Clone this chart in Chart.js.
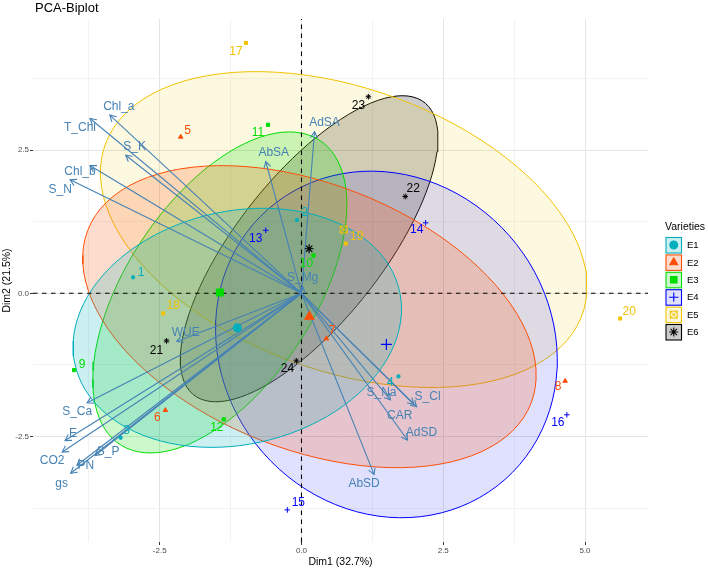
<!DOCTYPE html>
<html>
<head>
<meta charset="utf-8">
<title>PCA-Biplot</title>
<script src="https://cdn.jsdelivr.net/npm/chart.js@4.4.0/dist/chart.umd.min.js"></script>
<style>
  html, body { margin: 0; padding: 0; background: #fff; }
  #wrap { width: 708px; height: 569px; }
</style>
</head>
<body>
<div id="wrap"><canvas id="biplot" width="708" height="569"></canvas></div>
<script>
// --- data ---
const groupNames = ['E1', 'E2', 'E3', 'E4', 'E5', 'E6'];

const indLabels = ['1','2','3','4','5','6','7','8','9','10','11','12',
                   '13','14','15','16','17','18','19','20','21','22','23','24'];
const indGroup  = [0,0,0,0, 1,1,1,1, 2,2,2,2, 3,3,3,3, 4,4,4,4, 5,5,5,5];
const indDim1 = [-2.97, -0.08, -3.19,  1.71,
                 -2.13, -2.40,  0.44,  4.65,
                 -4.01,  0.21, -0.59, -1.37,
                 -0.63,  2.19, -0.25,  4.68,
                 -0.98, -2.44,  0.78,  5.62,
                 -2.38,  1.83,  1.18, -0.09];
const indDim2 = [ 0.28,  1.28, -2.52, -1.45,
                  2.73, -2.04, -0.79, -1.53,
                 -1.34,  0.66,  2.94, -2.20,
                  1.10,  1.23, -3.78, -2.12,
                  4.37, -0.35,  0.87, -0.44,
                 -0.83,  1.69,  3.43, -1.18];

const varNames = ['Chl_a','T_Chl','S_K','Chl_b','S_N','AbSA','AdSA','S_Mg','WUE','S_Ca',
                  'E','CO2','S_P','PN','gs','S_Na','S_Cl','CAR','AdSD','AbSD'];
const varDim1 = [-3.38, -3.73, -3.10, -3.73, -4.08, -0.63,  0.23, 0.02, -2.20, -3.78,
                 -4.17, -4.22, -3.64, -3.96, -4.07,  1.57,  2.03, 1.98,  1.87,  1.28];
const varDim2 = [ 3.11,  3.05,  2.41,  2.23,  1.98,  2.30,  2.82, 0.12, -0.84, -1.91,
                 -2.57, -2.77, -2.83, -3.00, -3.14, -1.86, -1.98, -1.94, -2.56, -3.16];

const dim1Ticks = [-3.75, -2.5, -1.25, 0, 1.25, 2.5, 3.75, 5];
const dim2Ticks = [-3.75, -2.5, -1.25, 0, 1.25, 2.5, 3.75];
const majorTicks = [-2.5, 0, 2.5, 5];

// --- styles / layout ---
const groupColors = ['#00AFBB', '#FC4E07', '#00DD00', '#0000FF', '#F2C200', '#000000'];
const groupFills  = ['rgba(0,175,187,0.2)', 'rgba(252,78,7,0.2)', 'rgba(0,221,0,0.2)',
                     'rgba(0,0,255,0.12)', 'rgba(242,194,0,0.12)', 'rgba(0,0,0,0.2)'];
const arrowColor = '#4682B4';
const xRange = [-4.735, 6.111];
const yRange = [-4.34, 4.787];

// label nudges in pixels (ggrepel placed them by hand in the original)
const indNudge = [[8,-5],[8,-7],[6,-7],[-8,6],[7,-6],[-8,7],[6,-8],[-7,6],
                  [8,-5],[-7,8],[-10,8],[-7,8],[-10,8],[-9,7],[11,-7],[-9,8],
                  [-10,9],[10,-8],[11,-7],[9,-7],[-10,10],[8,-8],[-10,9],[-9,8]];
const varNudge = [[9,-8],[-10,9],[9,-9],[-10,6],[-10,10],[8,-9],[10,-9],[0,-9],[9,-9],[-10,9],
                  [8,-7],[-10,9],[13,-4],[9,0],[-9,10],[-9,-7],[11,-10],[-14,11],[14,-7],[-10,9]];

const FONT = '"Liberation Sans", Arial, sans-serif';

// square with a cross inside (ggplot shape 7)
function squareX(size, color) {
  const c = document.createElement('canvas');
  c.width = c.height = size + 2;
  const g = c.getContext('2d');
  g.strokeStyle = color;
  g.lineWidth = 1;
  g.strokeRect(1.5, 1.5, size - 1, size - 1);
  g.beginPath();
  g.moveTo(1.5, 1.5); g.lineTo(size + 0.5, size + 0.5);
  g.moveTo(size + 0.5, 1.5); g.lineTo(1.5, size + 0.5);
  g.stroke();
  return c;
}

const smallStyle = [
  { pointStyle: 'circle', radius: 1.7 },
  { pointStyle: 'triangle', radius: 2.6 },
  { pointStyle: 'rect', radius: 2.3 },
  { pointStyle: 'cross', radius: 2.8 },
  { pointStyle: squareX(4, groupColors[4]), radius: 3 },
  { pointStyle: 'star', radius: 2.8 }
];
const bigStyle = [
  { pointStyle: 'circle', radius: 3.9 },
  { pointStyle: 'triangle', radius: 5.2 },
  { pointStyle: 'rect', radius: 4.8 },
  { pointStyle: 'cross', radius: 5.5 },
  { pointStyle: squareX(8, groupColors[4]), radius: 5 },
  { pointStyle: 'star', radius: 4.5 }
];

// confidence ellipse of the group mean (same as FactoMineR::coord.ellipse, bary = TRUE)
function confEllipse(xs, ys, level) {
  const n = xs.length;
  const mx = xs.reduce((a, b) => a + b, 0) / n;
  const my = ys.reduce((a, b) => a + b, 0) / n;
  let sxx = 0, syy = 0, sxy = 0;
  for (let i = 0; i < n; i++) {
    sxx += (xs[i] - mx) ** 2;
    syy += (ys[i] - my) ** 2;
    sxy += (xs[i] - mx) * (ys[i] - my);
  }
  sxx /= (n - 1) * n; syy /= (n - 1) * n; sxy /= (n - 1) * n;
  const t = Math.sqrt(-2 * Math.log(1 - level));
  const sx = Math.sqrt(sxx), sy = Math.sqrt(syy);
  const d = Math.acos(sxy / (sx * sy));
  const pts = [];
  for (let k = 0; k <= 100; k++) {
    const a = (2 * Math.PI * k) / 100;
    pts.push({ x: mx + t * sx * Math.cos(a + d / 2), y: my + t * sy * Math.cos(a - d / 2) });
  }
  return { pts, mx, my };
}

// --- datasets ---
const datasets = [];

groupNames.forEach((g, gi) => {
  const xs = [], ys = [];
  indGroup.forEach((k, i) => { if (k === gi) { xs.push(indDim1[i]); ys.push(indDim2[i]); } });
  const el = confEllipse(xs, ys, 0.95);

  datasets.push({
    type: 'line', label: g + ' ellipse', data: el.pts,
    borderColor: groupColors[gi], borderWidth: 1, backgroundColor: groupFills[gi],
    fill: 'shape', pointRadius: 0, tension: 0, order: 10
  });
  datasets.push({
    type: 'scatter', label: g, data: xs.map((x, i) => ({ x, y: ys[i] })),
    pointStyle: smallStyle[gi].pointStyle, pointRadius: smallStyle[gi].radius,
    borderColor: groupColors[gi], backgroundColor: groupColors[gi], pointBorderWidth: 1, order: 2
  });
  datasets.push({
    type: 'scatter', label: g + ' mean', data: [{ x: el.mx, y: el.my }],
    pointStyle: bigStyle[gi].pointStyle, pointRadius: bigStyle[gi].radius,
    borderColor: groupColors[gi], backgroundColor: groupColors[gi], pointBorderWidth: 1.2, order: 1
  });
});

// dashed reference lines through the origin
datasets.push({
  type: 'line', label: 'h0', data: [{ x: xRange[0], y: 0 }, { x: xRange[1], y: 0 }],
  borderColor: '#000', borderWidth: 1.1, borderDash: [4.5, 4.5], pointRadius: 0, order: 6
});
datasets.push({
  type: 'line', label: 'v0', data: [{ x: 0, y: yRange[0] }, { x: 0, y: yRange[1] }],
  borderColor: '#000', borderWidth: 1.1, borderDash: [4.5, 4.5], pointRadius: 0, order: 6
});

// variable arrows
varNames.forEach((v, i) => {
  datasets.push({
    type: 'line', label: v, isArrow: true,
    data: [{ x: 0, y: 0 }, { x: varDim1[i], y: varDim2[i] }],
    borderColor: arrowColor, borderWidth: 1.1, pointRadius: 0, order: 4
  });
});

// --- plugins ---
const arrowHeads = {
  id: 'arrowHeads',
  afterDatasetDraw(chart, args) {
    const ds = chart.data.datasets[args.index];
    if (!ds.isArrow) return;
    const p0 = args.meta.data[0], p1 = args.meta.data[1];
    const ang = Math.atan2(p1.y - p0.y, p1.x - p0.x);
    const L = 7, a = Math.PI / 6;
    const ctx = chart.ctx;
    ctx.save();
    ctx.strokeStyle = ds.borderColor;
    ctx.lineWidth = 1.1;
    ctx.beginPath();
    ctx.moveTo(p1.x - L * Math.cos(ang - a), p1.y - L * Math.sin(ang - a));
    ctx.lineTo(p1.x, p1.y);
    ctx.lineTo(p1.x - L * Math.cos(ang + a), p1.y - L * Math.sin(ang + a));
    ctx.stroke();
    ctx.restore();
  }
};

const textLabels = {
  id: 'textLabels',
  afterDatasetsDraw(chart) {
    const ctx = chart.ctx, xs = chart.scales.x, ys = chart.scales.y;
    ctx.save();
    ctx.textAlign = 'center';
    ctx.textBaseline = 'middle';
    ctx.font = '12px ' + FONT;
    indLabels.forEach((lab, i) => {
      ctx.fillStyle = groupColors[indGroup[i]];
      ctx.fillText(lab, xs.getPixelForValue(indDim1[i]) + indNudge[i][0],
                        ys.getPixelForValue(indDim2[i]) + indNudge[i][1]);
    });
    ctx.fillStyle = arrowColor;
    varNames.forEach((v, i) => {
      ctx.fillText(v, xs.getPixelForValue(varDim1[i]) + varNudge[i][0],
                      ys.getPixelForValue(varDim2[i]) + varNudge[i][1]);
    });
    ctx.restore();
  }
};

const titleAndLegend = {
  id: 'titleAndLegend',
  afterDraw(chart) {
    const ctx = chart.ctx;
    ctx.save();
    ctx.fillStyle = '#000';
    ctx.textBaseline = 'middle';
    ctx.textAlign = 'left';
    ctx.font = '13px ' + FONT;
    ctx.fillText('PCA-Biplot', 35, 8);

    ctx.font = '10.5px ' + FONT;
    ctx.fillText('Varieties', 665, 227);
    ctx.font = '9.5px ' + FONT;
    groupNames.forEach((g, gi) => {
      const cy = 245 + gi * 17.4;
      ctx.fillStyle = '#fff';
      ctx.fillRect(666, cy - 7.5, 15.5, 15.5);
      ctx.fillStyle = groupFills[gi];
      ctx.fillRect(666, cy - 7.5, 15.5, 15.5);
      ctx.strokeStyle = groupColors[gi];
      ctx.lineWidth = 1.1;
      ctx.strokeRect(666, cy - 7.5, 15.5, 15.5);
      ctx.fillStyle = groupColors[gi];
      ctx.strokeStyle = groupColors[gi];
      const st = bigStyle[gi];
      Chart.helpers.drawPoint(ctx, {
        pointStyle: st.pointStyle, radius: Math.min(st.radius, 4.6), borderWidth: 1.2, rotation: 0
      }, 673.75, cy);
      ctx.fillStyle = '#000';
      ctx.fillText(g, 687, cy + 0.5);
    });
    ctx.restore();
  }
};

const isMajor = v => majorTicks.some(m => Math.abs(m - v) < 1e-9);
const tickText = v => isMajor(v) ? v.toFixed(1) : '';

new Chart(document.getElementById('biplot'), {
  type: 'scatter',
  data: { datasets },
  plugins: [arrowHeads, textLabels, titleAndLegend],
  options: {
    responsive: false,
    animation: false,
    layout: { autoPadding: false, padding: { left: 0, right: 60, top: 19, bottom: 0 } },
    plugins: { legend: { display: false }, tooltip: { enabled: false } },
    scales: {
      x: {
        type: 'linear', min: xRange[0], max: xRange[1],
        afterBuildTicks: s => { s.ticks = dim1Ticks.map(v => ({ value: v })); },
        afterFit: s => { s.height = 27; },
        border: { display: false },
        grid: {
          color: c => isMajor(c.tick.value) ? '#e4e4e4' : '#f0f0f0',
          lineWidth: c => isMajor(c.tick.value) ? 1 : 0.8,
          tickColor: c => isMajor(c.tick.value) ? '#333' : 'rgba(0,0,0,0)',
          tickLength: 3
        },
        ticks: { callback: tickText, color: '#4d4d4d', font: { size: 8, family: FONT }, padding: 1, maxRotation: 0, autoSkip: false },
        title: { display: true, text: 'Dim1 (32.7%)', color: '#000', font: { size: 10.5, family: FONT }, padding: { top: 0, bottom: 1 } }
      },
      y: {
        type: 'linear', min: yRange[0], max: yRange[1],
        afterBuildTicks: s => { s.ticks = dim2Ticks.map(v => ({ value: v })); },
        afterFit: s => { s.width = 33; },
        border: { display: false },
        grid: {
          color: c => isMajor(c.tick.value) ? '#e4e4e4' : '#f0f0f0',
          lineWidth: c => isMajor(c.tick.value) ? 1 : 0.8,
          tickColor: c => isMajor(c.tick.value) ? '#333' : 'rgba(0,0,0,0)',
          tickLength: 3
        },
        ticks: { callback: tickText, color: '#4d4d4d', font: { size: 8, family: FONT }, padding: 1, autoSkip: false },
        title: { display: true, text: 'Dim2 (21.5%)', color: '#000', font: { size: 10.5, family: FONT }, padding: { top: 1, bottom: 0 } }
      }
    }
  }
});
</script>
</body>
</html>
